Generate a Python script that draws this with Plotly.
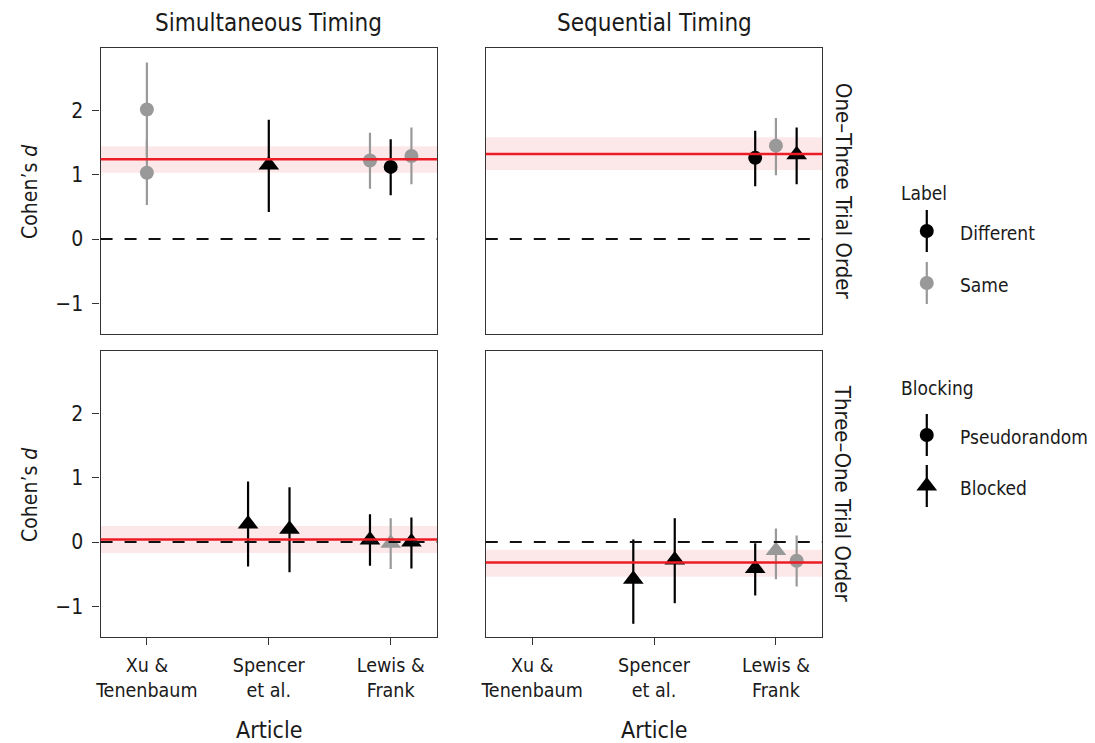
import plotly.graph_objects as go

# ---------------- data ----------------
articles = ["Xu &<br>Tenenbaum", "Spencer<br>et al.", "Lewis &<br>Frank"]
timings = ["Simultaneous Timing", "Sequential Timing"]
orders = ["One\u2013Three Trial Order", "Three\u2013One Trial Order"]

# each point: article index, experiment slot (0,1,2 within article), d, lo, hi, label, blocking
tl_article = [0, 0, 1, 2, 2, 2]
tl_slot = [1, 1, 1, 0, 1, 2]
tl_d = [2.01, 1.03, 1.15, 1.22, 1.12, 1.29]
tl_lo = [1.28, 0.53, 0.42, 0.78, 0.68, 0.85]
tl_hi = [2.74, 1.53, 1.85, 1.65, 1.55, 1.73]
tl_label = ["Same", "Same", "Different", "Same", "Different", "Same"]
tl_block = ["Pseudorandom", "Pseudorandom", "Blocked", "Pseudorandom", "Pseudorandom", "Pseudorandom"]

tr_article = [2, 2, 2]
tr_slot = [0, 1, 2]
tr_d = [1.26, 1.45, 1.31]
tr_lo = [0.82, 0.99, 0.85]
tr_hi = [1.68, 1.88, 1.73]
tr_label = ["Different", "Same", "Different"]
tr_block = ["Pseudorandom", "Pseudorandom", "Blocked"]

bl_article = [1, 1, 2, 2, 2]
bl_slot = [0, 2, 0, 1, 2]
bl_d = [0.28, 0.20, 0.03, -0.02, 0.00]
bl_lo = [-0.38, -0.47, -0.37, -0.42, -0.41]
bl_hi = [0.94, 0.85, 0.43, 0.37, 0.38]
bl_label = ["Different", "Different", "Different", "Same", "Different"]
bl_block = ["Blocked", "Blocked", "Blocked", "Blocked", "Blocked"]

br_article = [1, 1, 2, 2, 2]
br_slot = [0, 2, 0, 1, 2]
br_d = [-0.58, -0.28, -0.41, -0.13, -0.29]
br_lo = [-1.27, -0.95, -0.83, -0.58, -0.69]
br_hi = [0.04, 0.37, -0.02, 0.21, 0.10]
br_label = ["Different", "Different", "Different", "Same", "Same"]
br_block = ["Blocked", "Blocked", "Blocked", "Blocked", "Pseudorandom"]

# meta-analytic estimates per panel (TL, TR, BL, BR)
meta_d = [1.24, 1.32, 0.04, -0.32]
meta_lo = [1.03, 1.07, -0.17, -0.54]
meta_hi = [1.44, 1.58, 0.25, -0.12]

y_ticks = [-1, 0, 1, 2]
y_ticktext = ["\u22121", "0", "1", "2"]

# ---------------- styles ----------------
W, H = 1095, 743
FONT = "DejaVu Sans Condensed, Liberation Sans Narrow, Roboto, sans-serif"
TXT = "#1a1a1a"
colors = {"Different": "#000000", "Same": "#999999"}
symbols = {"Pseudorandom": "circle", "Blocked": "triangle-up"}
sizes = {"Pseudorandom": 14, "Blocked": 18}
RED = "#ED1C24"
BAND = "rgba(237,28,36,0.10)"
DODGE = 0.17


def px(x):
    return x / W


def py(y):
    return 1 - y / H


# panel pixel boxes (left, right) and (top, bottom)
col_x = [(96, 434), (483, 821)]
row_y = [(48, 334), (351, 637)]

panels = [
    (0, 0, tl_article, tl_slot, tl_d, tl_lo, tl_hi, tl_label, tl_block),
    (0, 1, tr_article, tr_slot, tr_d, tr_lo, tr_hi, tr_label, tr_block),
    (1, 0, bl_article, bl_slot, bl_d, bl_lo, bl_hi, bl_label, bl_block),
    (1, 1, br_article, br_slot, br_d, br_lo, br_hi, br_label, br_block),
]

fig = go.Figure()
layout = {}
shapes = []
annotations = []

for i, (r, c, art, slot, d, lo, hi, lab, blk) in enumerate(panels):
    n = i + 1
    xa = "x" if n == 1 else f"x{n}"
    ya = "y" if n == 1 else f"y{n}"
    xk = "xaxis" if n == 1 else f"xaxis{n}"
    yk = "yaxis" if n == 1 else f"yaxis{n}"
    x0, x1 = col_x[c]
    yt, yb = row_y[r]
    bottom = r == 1
    left = c == 0
    layout[xk] = dict(
        domain=[px(x0), px(x1)], anchor=ya, range=[0.62, 3.38],
        tickvals=[1, 2, 3], ticktext=articles,
        ticks="outside" if bottom else "", ticklen=7, tickwidth=1.3, tickcolor="#333333",
        showticklabels=bottom, showline=True, mirror=True, linecolor="#333333", linewidth=1.3,
        showgrid=False, zeroline=False, ticklabelstandoff=3,
        tickfont=dict(family=FONT, size=19.5, color=TXT),
    )
    layout[yk] = dict(
        domain=[py(yb), py(yt)], anchor=xa, range=[-1.475, 2.966],
        tickvals=y_ticks, ticktext=y_ticktext,
        ticks="outside" if left else "", ticklen=7, tickwidth=1.3, tickcolor="#333333",
        showticklabels=left, showline=True, mirror=True, linecolor="#333333", linewidth=1.3,
        showgrid=False, zeroline=False, ticklabelstandoff=5,
        tickfont=dict(family=FONT, size=21, color=TXT),
    )
    shapes.append(dict(type="rect", xref=f"{xa} domain", yref=ya, x0=0, x1=1,
                       y0=meta_lo[i], y1=meta_hi[i], fillcolor=BAND, line=dict(width=0), layer="below"))
    shapes.append(dict(type="line", xref=f"{xa} domain", yref=ya, x0=0, x1=1, y0=0, y1=0,
                       line=dict(color="#111111", width=2, dash="12px,12px")))
    shapes.append(dict(type="line", xref=f"{xa} domain", yref=ya, x0=0, x1=1,
                       y0=meta_d[i], y1=meta_d[i], line=dict(color=RED, width=2.5)))
    for L in ["Different", "Same"]:
        for B in ["Pseudorandom", "Blocked"]:
            idx = [k for k in range(len(d)) if lab[k] == L and blk[k] == B]
            if not idx:
                continue
            xs = [art[k] + 1 + (slot[k] - 1) * DODGE for k in idx]
            ys = [d[k] for k in idx]
            fig.add_trace(go.Scatter(
                x=xs, y=ys, xaxis=xa, yaxis=ya, mode="markers", showlegend=False,
                marker=dict(symbol=symbols[B], size=sizes[B], color=colors[L], line=dict(width=0)),
                error_y=dict(type="data", symmetric=False,
                             array=[hi[k] - d[k] for k in idx],
                             arrayminus=[d[k] - lo[k] for k in idx],
                             thickness=2.2, width=0, color=colors[L]),
                hoverinfo="skip",
            ))

# strip labels and axis titles
for c, t in enumerate(timings):
    x0, x1 = col_x[c]
    annotations.append(dict(text=t, x=px((x0 + x1) / 2), y=py(23), xref="paper", yref="paper",
                            showarrow=False, xanchor="center", yanchor="middle",
                            font=dict(family=FONT, size=24, color=TXT)))
    annotations.append(dict(text="Article", x=px((x0 + x1) / 2), y=py(730), xref="paper", yref="paper",
                            showarrow=False, xanchor="center", yanchor="middle",
                            font=dict(family=FONT, size=23, color=TXT)))
for r, t in enumerate(orders):
    yt, yb = row_y[r]
    annotations.append(dict(text=t, x=px(842), y=py((yt + yb) / 2), xref="paper", yref="paper",
                            showarrow=False, xanchor="center", yanchor="middle", textangle=90,
                            font=dict(family=FONT, size=22, color=TXT)))
    annotations.append(dict(text="Cohen\u2019s <i>d</i>", x=px(25), y=py((yt + yb) / 2), xref="paper",
                            yref="paper", showarrow=False, xanchor="center", yanchor="middle",
                            textangle=-90, font=dict(family=FONT, size=21, color=TXT)))

# ---------------- legend (helper axis in pixel units, restricted to legend area) ----------------
LX0, LX1, LY0, LY1 = 890, 960, 160, 520
layout["xaxis5"] = dict(domain=[px(LX0), px(LX1)], range=[LX0, LX1], visible=False,
                        anchor="y5", fixedrange=True)
layout["yaxis5"] = dict(domain=[py(LY1), py(LY0)], range=[LY1, LY0], visible=False,
                        anchor="x5", fixedrange=True)
leg_titles = [("Label", 193), ("Blocking", 388)]
leg_items = [
    ("Different", colors["Different"], symbols["Pseudorandom"], sizes["Pseudorandom"], 231),
    ("Same", colors["Same"], symbols["Pseudorandom"], sizes["Pseudorandom"], 283),
    ("Pseudorandom", "#000000", symbols["Pseudorandom"], sizes["Pseudorandom"], 435),
    ("Blocked", "#000000", symbols["Blocked"], sizes["Blocked"], 486),
]
for name, col, sym, sz, yc in leg_items:
    fig.add_trace(go.Scatter(
        x=[926], y=[yc], xaxis="x5", yaxis="y5", mode="markers", showlegend=False,
        marker=dict(symbol=sym, size=sz, color=col, line=dict(width=0)),
        error_y=dict(type="constant", value=21, thickness=2.2, width=0, color=col),
        hoverinfo="skip"))
    annotations.append(dict(text=name, x=px(957), y=py(yc + 2), xref="paper", yref="paper",
                            showarrow=False, xanchor="left", yanchor="middle",
                            font=dict(family=FONT, size=19, color=TXT)))
for t, yc in leg_titles:
    annotations.append(dict(text=t, x=px(898), y=py(yc), xref="paper", yref="paper",
                            showarrow=False, xanchor="left", yanchor="middle",
                            font=dict(family=FONT, size=19, color=TXT)))

fig.update_layout(
    width=W, height=H, margin=dict(l=0, r=0, t=0, b=0, pad=0),
    paper_bgcolor="white", plot_bgcolor="rgba(0,0,0,0)", showlegend=False,
    shapes=shapes, annotations=annotations,
    font=dict(family=FONT, color=TXT),
    **layout,
)
fig.write_html("out.html", config={"displayModeBar": False},
               post_script="document.body.style.margin='0';document.body.style.overflow='hidden';")
